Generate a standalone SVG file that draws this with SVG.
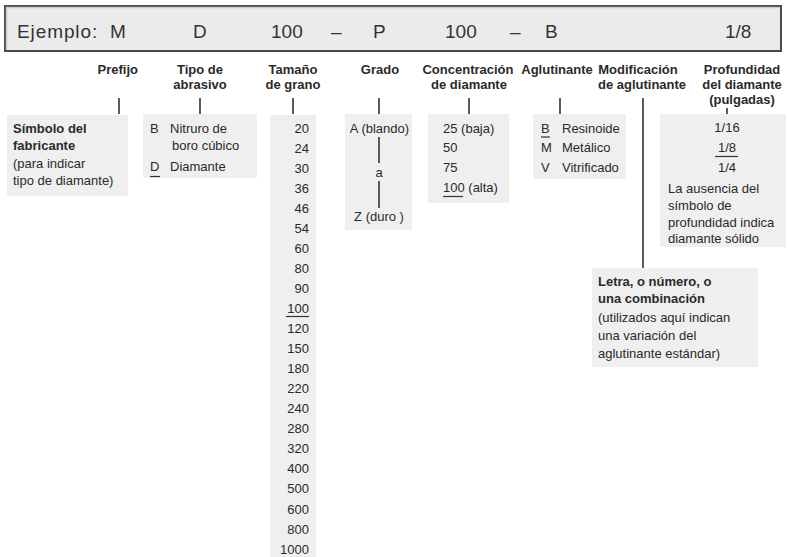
<svg xmlns="http://www.w3.org/2000/svg" width="787" height="557" viewBox="0 0 787 557">
<style>
text{font-family:"Liberation Sans",Arial,sans-serif;fill:#2a2a2a;font-size:13px}
.h{font-weight:bold;text-anchor:middle}
.b{font-weight:bold}
.r{text-anchor:end}
.m{text-anchor:middle}
.big{font-size:19px;fill:#333}
.box{fill:#efefef}
.tick{stroke:#333;stroke-width:1.6}
.ul{stroke:#333;stroke-width:1.2}
</style>
<rect width="787" height="557" fill="#fff"/>
<g id="example-bar">
<rect x="5" y="6" width="776" height="45" fill="#ebebeb" stroke="#4a4a4a" stroke-width="2"/>
<path d="M6.5 49.5V7.5H779.5" fill="none" stroke="#c8c8c8" stroke-width="1.5"/>
<text class="big" x="17" y="38" letter-spacing="0.9">Ejemplo:</text>
<text class="big" x="110" y="38">M</text>
<text class="big" x="193" y="38">D</text>
<text class="big" x="271" y="38">100</text>
<text class="big" x="331" y="38">–</text>
<text class="big" x="373" y="38">P</text>
<text class="big" x="445" y="38">100</text>
<text class="big" x="510" y="38">–</text>
<text class="big" x="545" y="38">B</text>
<text class="big" x="725" y="38">1/8</text>
</g>
<g id="prefijo">
<text class="b" x="138" y="74" text-anchor="end">Prefijo</text>
<rect class="box" x="7" y="115" width="121" height="81"/>
<text class="b" x="13" y="133">Símbolo del</text>
<text class="b" x="13" y="150">fabricante</text>
<text x="13" y="168">(para indicar</text>
<text x="13" y="185">tipo de diamante)</text>
</g>
<g id="tipo-abrasivo">
<text class="h" x="200" y="74">Tipo de</text>
<text class="h" x="200" y="89">abrasivo</text>
<rect class="box" x="143" y="114" width="114" height="64"/>
<text x="150" y="133">B</text>
<text x="170" y="133">Nitruro de</text>
<text x="172" y="150">boro cúbico</text>
<text x="150" y="171">D</text>
<line class="ul" x1="150" y1="176.5" x2="160" y2="176.5"/>
<text x="170" y="171">Diamante</text>
</g>
<g id="tamano-grano">
<text class="h" x="293" y="74">Tamaño</text>
<text class="h" x="293" y="89">de grano</text>
<rect class="box" x="270" y="115" width="46" height="442"/>
<text class="r" x="309" y="132.5">20</text>
<text class="r" x="309" y="152.6">24</text>
<text class="r" x="309" y="172.6">30</text>
<text class="r" x="309" y="192.7">36</text>
<text class="r" x="309" y="212.7">46</text>
<text class="r" x="309" y="232.8">54</text>
<text class="r" x="309" y="252.8">60</text>
<text class="r" x="309" y="272.9">80</text>
<text class="r" x="309" y="292.9">90</text>
<text class="r" x="309" y="313">100</text>
<line class="ul" x1="286" y1="316.5" x2="309" y2="316.5"/>
<text class="r" x="309" y="333">120</text>
<text class="r" x="309" y="353.1">150</text>
<text class="r" x="309" y="373.1">180</text>
<text class="r" x="309" y="393.2">220</text>
<text class="r" x="309" y="413.2">240</text>
<text class="r" x="309" y="433.3">280</text>
<text class="r" x="309" y="453.3">320</text>
<text class="r" x="309" y="473.4">400</text>
<text class="r" x="309" y="493.4">500</text>
<text class="r" x="309" y="513.5">600</text>
<text class="r" x="309" y="533.5">800</text>
<text class="r" x="309" y="553.6">1000</text>
</g>
<g id="grado">
<text class="h" x="380" y="74">Grado</text>
<rect class="box" x="345" y="114" width="67" height="116"/>
<text class="m" x="379.5" y="133">A (blando)</text>
<line class="tick" x1="379" y1="137" x2="379" y2="163"/>
<text class="m" x="379" y="177">a</text>
<line class="tick" x1="379" y1="181" x2="379" y2="208"/>
<text class="m" x="379" y="221">Z (duro )</text>
</g>
<g id="concentracion">
<text class="h" x="468" y="74">Concentración</text>
<text class="h" x="469" y="89">de diamante</text>
<rect class="box" x="428" y="114" width="81" height="89"/>
<text x="443" y="133">25 (baja)</text>
<text x="443" y="152">50</text>
<text x="443" y="172">75</text>
<text x="443" y="192">100 (alta)</text>
<line class="ul" x1="443" y1="196.5" x2="463" y2="196.5"/>
</g>
<g id="aglutinante">
<text class="h" x="557" y="74">Aglutinante</text>
<rect class="box" x="533" y="114" width="93" height="65"/>
<text x="541" y="133">B</text>
<line class="ul" x1="541" y1="137" x2="550" y2="137"/>
<text x="562" y="133">Resinoide</text>
<text x="541" y="152">M</text>
<text x="562" y="152">Metálico</text>
<text x="541" y="172">V</text>
<text x="562" y="172">Vitrificado</text>
</g>
<g id="modificacion">
<text class="h" x="638" y="74">Modificación</text>
<text class="h" x="642" y="89">de aglutinante</text>
<rect class="box" x="592" y="268" width="166" height="99"/>
<text class="b" x="598" y="286">Letra, o número, o</text>
<text class="b" x="598" y="303">una combinación</text>
<text x="598" y="322">(utilizados aquí indican</text>
<text x="598" y="340">una variación del</text>
<text x="598" y="358">aglutinante estándar)</text>
</g>
<g id="profundidad">
<text class="h" x="742" y="74">Profundidad</text>
<text class="h" x="742" y="89">del diamante</text>
<text class="h" x="742" y="104">(pulgadas)</text>
<rect class="box" x="660" y="114" width="126" height="133"/>
<text class="m" x="727" y="132">1/16</text>
<text class="m" x="727" y="152">1/8</text>
<line class="ul" x1="715" y1="156.5" x2="738" y2="156.5"/>
<text class="m" x="727" y="172">1/4</text>
<text x="668" y="193">La ausencia del</text>
<text x="668" y="210">símbolo de</text>
<text x="668" y="227">profundidad indica</text>
<text x="668" y="243">diamante sólido</text>
</g>
<g id="connectors">
<line class="tick" x1="119" y1="98" x2="119" y2="114"/>
<line class="tick" x1="200" y1="98" x2="200" y2="114"/>
<line class="tick" x1="293" y1="98" x2="293" y2="114"/>
<line class="tick" x1="379" y1="98" x2="379" y2="114"/>
<line class="tick" x1="469" y1="98" x2="469" y2="114"/>
<line class="tick" x1="560" y1="98" x2="560" y2="114"/>
<line class="tick" x1="643" y1="98" x2="643" y2="268" stroke-width="2"/>
<line class="tick" x1="727" y1="108" x2="727" y2="114"/>
</g>
</svg>
